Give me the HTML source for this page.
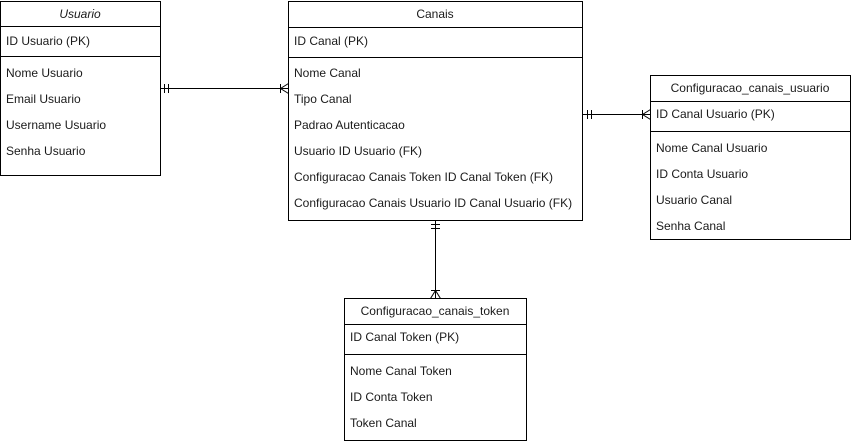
<!DOCTYPE html>
<html><head><meta charset="utf-8"><style>
html,body{margin:0;padding:0;background:#fff;}
svg text{font-family:"Liberation Sans",Arial,sans-serif;font-size:12px;fill:#1a1a1a;dominant-baseline:central;}
</style></head><body>
<svg width="851" height="441" viewBox="0 0 851 441" xmlns="http://www.w3.org/2000/svg">
<g fill="#fff" stroke="#000" stroke-width="1">
<rect x="0.5" y="1.5" width="160" height="174"/>
<line x1="0.5" y1="26.5" x2="160.5" y2="26.5"/>
<line x1="0.5" y1="56.5" x2="160.5" y2="56.5"/>
<rect x="288.5" y="1.5" width="294" height="219"/>
<line x1="288.5" y1="27.5" x2="582.5" y2="27.5"/>
<line x1="288.5" y1="57.5" x2="582.5" y2="57.5"/>
<rect x="650.5" y="75.5" width="200" height="164"/>
<line x1="650.5" y1="101.5" x2="850.5" y2="101.5"/>
<line x1="650.5" y1="131.5" x2="850.5" y2="131.5"/>
<rect x="344.5" y="298.5" width="182" height="142"/>
<line x1="344.5" y1="324.5" x2="526.5" y2="324.5"/>
<line x1="344.5" y1="354.5" x2="526.5" y2="354.5"/>
</g>
<g stroke="#000" stroke-width="1" fill="none">
<line x1="160.5" y1="88.5" x2="288.5" y2="88.5"/>
<line x1="164.5" y1="84" x2="164.5" y2="93"/><line x1="168.5" y1="84" x2="168.5" y2="93"/>
<line x1="280.5" y1="84" x2="280.5" y2="93"/>
<path d="M288.5 83.5 L280.5 88.5 L288.5 93.5"/>
<line x1="582.5" y1="114.5" x2="650.5" y2="114.5"/>
<line x1="587.5" y1="110" x2="587.5" y2="119"/><line x1="591.5" y1="110" x2="591.5" y2="119"/>
<line x1="642.5" y1="110" x2="642.5" y2="119"/>
<path d="M650.5 109.5 L642.5 114.5 L650.5 119.5"/>
<line x1="435.5" y1="220.5" x2="435.5" y2="298.5"/>
<line x1="431" y1="224.5" x2="440" y2="224.5"/><line x1="431" y1="228.5" x2="440" y2="228.5"/>
<line x1="431" y1="290.5" x2="440" y2="290.5"/>
<path d="M430.5 298.5 L435.5 290.5 L440.5 298.5"/>
</g>
<text x="80" y="14" text-anchor="middle" font-style="italic">Usuario</text>
<text x="6" y="41">ID Usuario (PK)</text>
<text x="6" y="73">Nome Usuario</text>
<text x="6" y="99">Email Usuario</text>
<text x="6" y="125">Username Usuario</text>
<text x="6" y="151">Senha Usuario</text>
<text x="435" y="14" text-anchor="middle">Canais</text>
<text x="294" y="41">ID Canal (PK)</text>
<text x="294" y="73">Nome Canal</text>
<text x="294" y="99">Tipo Canal</text>
<text x="294" y="125">Padrao Autenticacao</text>
<text x="294" y="151">Usuario ID Usuario (FK)</text>
<text x="294" y="177">Configuracao Canais Token ID Canal Token (FK)</text>
<text x="294" y="203">Configuracao Canais Usuario ID Canal Usuario (FK)</text>
<text x="750" y="88" text-anchor="middle">Configuracao_canais_usuario</text>
<text x="656" y="114">ID Canal Usuario (PK)</text>
<text x="656" y="148">Nome Canal Usuario</text>
<text x="656" y="174">ID Conta Usuario</text>
<text x="656" y="200">Usuario Canal</text>
<text x="656" y="226">Senha Canal</text>
<text x="435" y="311" text-anchor="middle">Configuracao_canais_token</text>
<text x="350" y="337">ID Canal Token (PK)</text>
<text x="350" y="371">Nome Canal Token</text>
<text x="350" y="397">ID Conta Token</text>
<text x="350" y="423">Token Canal</text>
</svg>
</body></html>
